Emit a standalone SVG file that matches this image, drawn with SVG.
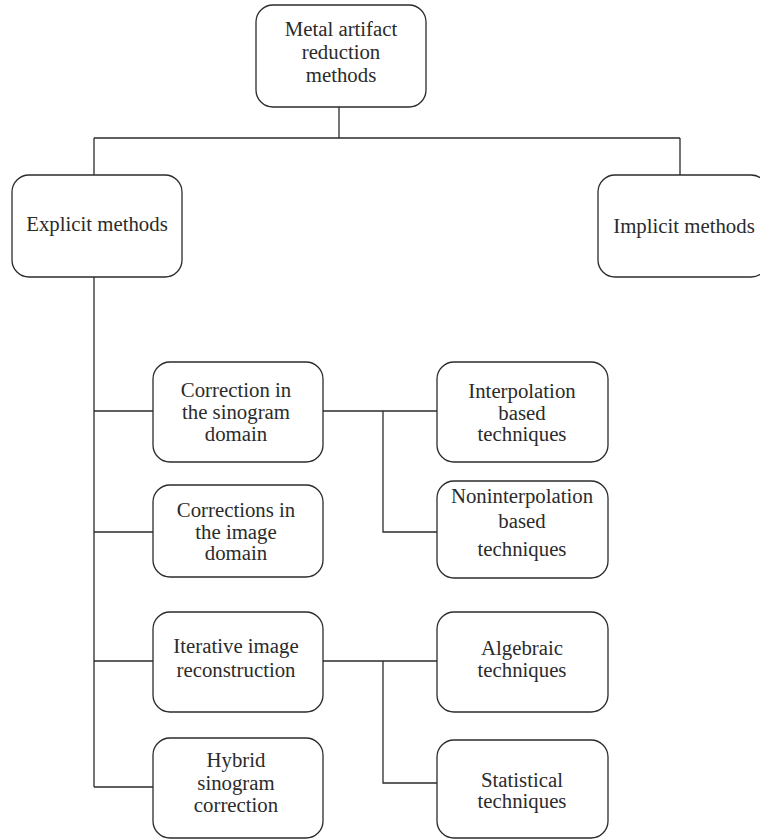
<svg xmlns="http://www.w3.org/2000/svg" width="760" height="840" viewBox="0 0 760 840">
<style>
.box{fill:#fff;stroke:#2b2b2b;stroke-width:1.3}
.ln{fill:none;stroke:#2b2b2b;stroke-width:1.3}
text{font-family:"Liberation Serif","DejaVu Serif",serif;font-size:20.8px;fill:#2b2b2b;text-anchor:middle}
</style>
<rect width="760" height="840" fill="#fff"/>
<g id="connectors">
<path class="ln" d="M339,107 V138 M94,138 H680 M94,138 V175 M680,138 V175"/>
<path class="ln" d="M94,277 V787 M94,411 H153 M94,532 H153 M94,661 H153 M94,787 H153"/>
<path class="ln" d="M323,411 H437 M383,411 V532 H437"/>
<path class="ln" d="M323,661 H437 M383,661 V783 H437"/>
</g>
<g id="root"><rect class="box" x="256" y="5" width="170" height="102" rx="17"/>
<text x="341" y="36">Metal artifact</text><text x="341" y="59">reduction</text><text x="341" y="82">methods</text></g>
<g id="explicit"><rect class="box" x="12" y="175" width="170" height="102" rx="17"/>
<text x="97" y="231">Explicit methods</text></g>
<g id="implicit"><rect class="box" x="598" y="175" width="170" height="102" rx="17"/>
<text x="684" y="233">Implicit methods</text></g>
<g id="sinogram"><rect class="box" x="153" y="362" width="170" height="100" rx="17"/>
<text x="236" y="397">Correction in</text><text x="236" y="419">the sinogram</text><text x="236" y="441">domain</text></g>
<g id="interp"><rect class="box" x="437" y="362" width="171" height="100" rx="17"/>
<text x="522" y="398">Interpolation</text><text x="522" y="420">based</text><text x="522" y="441">techniques</text></g>
<g id="noninterp"><rect class="box" x="437" y="481" width="171" height="97" rx="17"/>
<text x="522" y="503">Noninterpolation</text><text x="522" y="528">based</text><text x="522" y="556">techniques</text></g>
<g id="image"><rect class="box" x="153" y="485" width="170" height="92" rx="17"/>
<text x="236" y="517">Corrections in</text><text x="236" y="539">the image</text><text x="236" y="560">domain</text></g>
<g id="iterative"><rect class="box" x="153" y="612" width="170" height="100" rx="17"/>
<text x="236" y="653">Iterative image</text><text x="236" y="677">reconstruction</text></g>
<g id="algebraic"><rect class="box" x="437" y="612" width="171" height="100" rx="17"/>
<text x="522" y="655">Algebraic</text><text x="522" y="677">techniques</text></g>
<g id="statistical"><rect class="box" x="437" y="740" width="171" height="98" rx="17"/>
<text x="522" y="787">Statistical</text><text x="522" y="808">techniques</text></g>
<g id="hybrid"><rect class="box" x="153" y="738" width="170" height="100" rx="17"/>
<text x="236" y="767">Hybrid</text><text x="236" y="790">sinogram</text><text x="236" y="812">correction</text></g>
</svg>
